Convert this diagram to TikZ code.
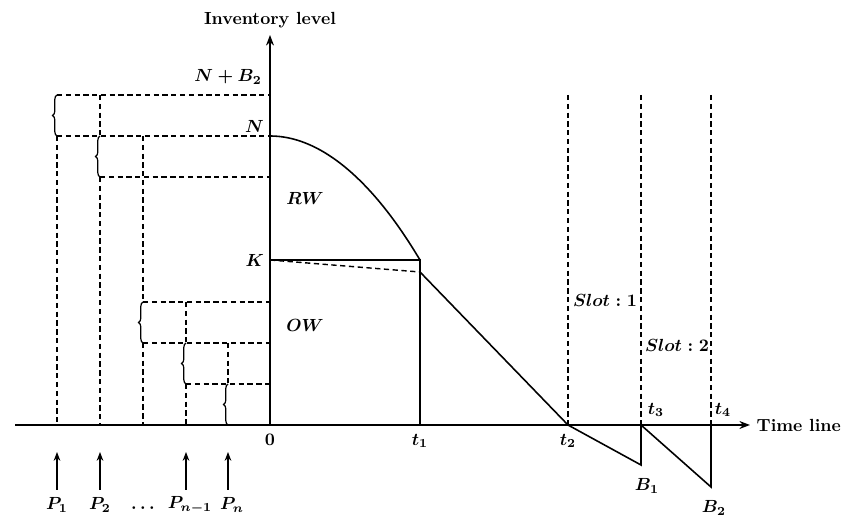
\documentclass[tikz,border=0pt]{standalone}
\usetikzlibrary{arrows.meta, decorations.pathreplacing}

\begin{document}
\begin{tikzpicture}[x=0.02cm, y=-0.02cm, font=\bfseries\boldmath]
    \tikzstyle{axis} = [line width=1pt, -{Stealth[length=6pt]}]
    \tikzstyle{curve} = [line width=0.9pt]
    \tikzstyle{guide} = [line width=0.8pt, dash pattern=on 3pt off 2pt]
    \tikzstyle{slot} = [line width=0.6pt, dash pattern=on 3pt off 2pt]
    \tikzstyle{lot} = [decorate, decoration={brace, amplitude=2.5pt}, line width=0.7pt]
    \tikzstyle{order} = [line width=0.9pt, -{Stealth[length=5pt]}]

    \useasboundingbox (0,0) rectangle (843,519);

    % key points
    \coordinate (O) at (270,425);
    \coordinate (N) at (270,136);
    \coordinate (K) at (270,260);
    \coordinate (top) at (270,95);
    \coordinate (T1k) at (420,260);
    \coordinate (T1d) at (420,272);
    \coordinate (T1) at (420,425);
    \coordinate (T2) at (568,425);
    \coordinate (T3) at (641,425);
    \coordinate (T4) at (711,425);
    \coordinate (b1) at (641,465);
    \coordinate (b2) at (711,487);

    % axes
    \draw[axis] (15,425) -- (750,425) node[right] (tl) {Time line};
    \draw[axis] (O) -- (270,35) node[above] (il) {Inventory level};

    % labels on the axes
    \node[anchor=east] (lNB) at (268,77) {$N+B_2$};
    \node[anchor=east] (lN) at (270,126) {$N$};
    \node[anchor=east] (lK) at (270,260) {$K$};
    \node (l0) at (270,440) {$0$};
    \node (lt1) at (420,441) {$t_1$};
    \node (lt2) at (568,441) {$t_2$};
    \node (lt3) at (656,410) {$t_3$};
    \node (lt4) at (723,410) {$t_4$};
    \node (lB1) at (647,486) {$B_1$};
    \node (lB2) at (714,508) {$B_2$};
    \node (rw) at (305,198) {$RW$};
    \node (ow) at (305,325) {$OW$};
    \node (s1) at (605,300) {$Slot:1$};
    \node (s2) at (677,345) {$Slot:2$};

    % inventory curve
    \draw[curve] (N) parabola (T1k);
    \draw[curve] (K) -- (T1k) -- (T1);
    \draw[guide] (K) -- (T1d);
    \draw[curve] (T1d) -- (T2) -- (b1) -- (T3) -- (b2) -- (T4);

    % slots
    \foreach \x in {568,641,711}
        \draw[slot] (\x,95) -- (\x,425);

    % ordered lots
    \draw[guide] (57,95) -- (top);
    \draw[guide] (57,136) -- (N);
    \draw[guide] (57,136) -- (57,425);
    \draw[lot] (57,136) -- (57,95);
    \draw[guide] (100,95) -- (100,136);
    \draw[lot] (100,177) -- (100,136);
    \draw[guide] (100,177) -- (270,177);
    \draw[guide] (100,177) -- (100,425);
    \draw[guide] (143,136) -- (143,302);
    \draw[lot] (143,343) -- (143,302);
    \draw[guide] (143,343) -- (143,425);
    \draw[guide] (143,302) -- (270,302);
    \draw[guide] (143,343) -- (270,343);
    \draw[guide] (186,302) -- (186,343);
    \draw[lot] (186,384) -- (186,343);
    \draw[guide] (186,384) -- (186,425);
    \draw[guide] (186,384) -- (270,384);
    \draw[guide] (228,343) -- (228,384);
    \draw[lot] (228,425) -- (228,384);

    % orders
    \foreach \x/\lx/\lab/\name in {57/57/P_1/p1, 100/100/P_2/p2, 186/190/P_{n-1}/pn1, 228/232/P_n/pn} {
        \node (\name) at (\lx,505) {$\lab$};
        \draw[order] (\x,490) -- (\x,452);
    }
    \node (dots) at (143,508) {$\cdots$};
\end{tikzpicture}
\end{document}
